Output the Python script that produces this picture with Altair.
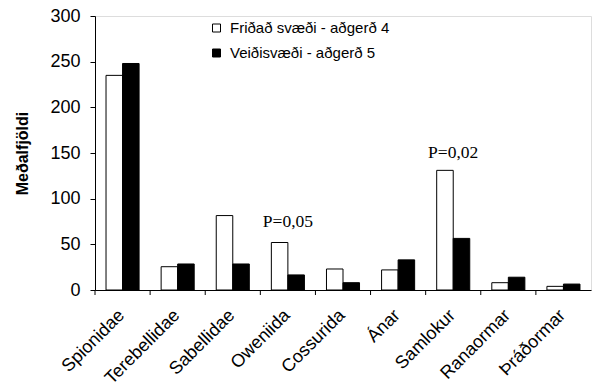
import altair as alt
import pandas as pd

categories = ["Spionidae", "Terebellidae", "Sabellidae", "Oweniida", "Cossurida",
              "Ánar", "Samlokur", "Ranaormar", "Þráðormar"]
fridad = [235, 25.5, 81.5, 52, 23, 22, 131, 8, 4]
veidi = [248, 28.5, 28.5, 16.5, 8, 33, 56.5, 14, 6.5]
series = ["Friðað svæði - aðgerð 4", "Veiðisvæði - aðgerð 5"]
p_cats = ["Oweniida", "Samlokur"]
p_labels = ["P=0,05", "P=0,02"]
p_pos = [74, 150]
y_ticks = [0, 50, 100, 150, 200, 250, 300]

rows = []
for c, a, b in zip(categories, fridad, veidi):
    rows.append({"cat": c, "series": series[0], "value": a})
    rows.append({"cat": c, "series": series[1], "value": b})
df = pd.DataFrame(rows)
df_cats = pd.DataFrame({"cat": categories})
df_p = pd.DataFrame({"cat": p_cats, "label": p_labels, "pos": p_pos})

x_scale = alt.Scale(paddingInner=0, paddingOuter=0)
y_scale = alt.Scale(domain=[0, 300], nice=False)

bars = alt.Chart(df).mark_bar(stroke="black", strokeWidth=1).encode(
    x=alt.X("cat:N", sort=categories, scale=x_scale,
            axis=alt.Axis(title=None, labelAngle=-45, ticks=False, domain=True,
                          domainColor="black", labelFontSize=18, labelColor="black",
                          labelFont="Liberation Sans", labelPadding=16, labelOffset=-7)),
    xOffset=alt.XOffset("series:N", sort=series,
                        scale=alt.Scale(paddingInner=0, paddingOuter=0.667)),
    y=alt.Y("value:Q", scale=y_scale,
            axis=alt.Axis(title="Meðalfjöldi", values=y_ticks, grid=False,
                          domainColor="black", tickColor="black", tickSize=5,
                          labelFontSize=18, labelColor="black", labelFont="Liberation Sans",
                          titleFont="Liberation Sans", titleFontSize=16, titleFontWeight="bold",
                          titleColor="black", titlePadding=19, labelPadding=10)),
    fill=alt.Fill("series:N", sort=series,
                  scale=alt.Scale(domain=series, range=["white", "black"]),
                  legend=alt.Legend(title=None, orient="none", legendX=114, legendY=4.5,
                                    symbolType="square", symbolSize=64,
                                    symbolStrokeColor="black", symbolStrokeWidth=1,
                                    labelFontSize=15, labelFont="Liberation Sans",
                                    labelColor="black", rowPadding=9, padding=0,
                                    labelLimit=400, labelOffset=6)),
)

ticks = alt.Chart(df_cats).mark_rule(color="black", strokeWidth=1).encode(
    x=alt.X("cat:N", sort=categories, bandPosition=0),
    y=alt.value(274),
    y2=alt.value(279),
)

ptext = alt.Chart(df_p).mark_text(font="Liberation Serif", fontSize=17.5, color="black",
                                  baseline="middle").encode(
    x=alt.X("cat:N", sort=categories),
    y=alt.Y("pos:Q", scale=y_scale),
    text="label:N",
)

chart = alt.layer(bars, ticks, ptext).properties(
    width=496, height=274,
    autosize=alt.AutoSizeParams(type="none"),
    padding={"left": 95, "top": 16, "right": 1, "bottom": 98},
).configure_view(stroke=None).configure(background="white")

chart.save("out.html", embed_options={"renderer": "svg", "actions": False})
